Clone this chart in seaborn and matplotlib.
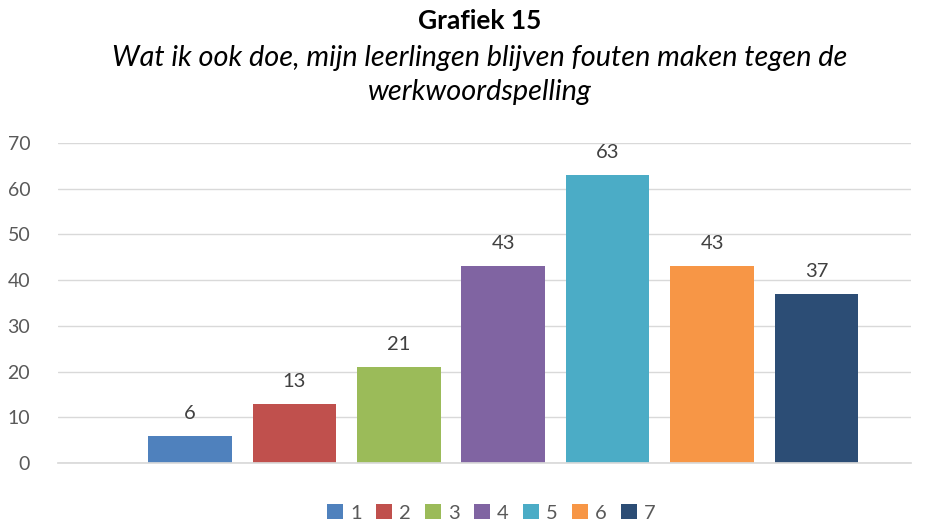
import matplotlib
matplotlib.use("Agg")
import matplotlib.pyplot as plt
import seaborn as sns
import pandas as pd

categories = ["1", "2", "3", "4", "5", "6", "7"]
values = [6, 13, 21, 43, 63, 43, 37]
colors = ["#4F81BD", "#C0504D", "#9BBB59", "#8064A2", "#4BACC6", "#F79646", "#2C4D75"]
yticks = [0, 10, 20, 30, 40, 50, 60, 70]
title = "Grafiek 15"
subtitle = "Wat ik ook doe, mijn leerlingen blijven fouten maken tegen de\nwerkwoordspelling"

sns.set_theme(style="white")
plt.rcParams["font.family"] = ["Lato", "DejaVu Sans"]

df = pd.DataFrame({"cat": categories, "val": values})
fig = plt.figure(figsize=(9.41, 5.25), dpi=100)
ax = fig.add_axes([0.0616, 0.118, 0.907, 0.61])

sns.barplot(data=df, x="cat", y="val", hue="cat", order=categories, hue_order=categories,
            palette=colors, dodge=False, width=0.8, saturation=1, ax=ax, legend=True,
            edgecolor="none", linewidth=0)

ax.set_xlim(-1.263, 6.909)
ax.set_ylim(0, 70)
ax.set_yticks(yticks)
ax.set_yticklabels([str(t) for t in yticks], fontsize=14, color="#595959")
ax.set_xticks([])
ax.set_xlabel("")
ax.set_ylabel("")
ax.grid(axis="y", color="#D9D9D9", linewidth=1)
ax.set_axisbelow(True)
for s in ["top", "right", "left"]:
    ax.spines[s].set_visible(False)
ax.spines["bottom"].set_color("#D9D9D9")
ax.tick_params(axis="y", length=0, pad=20)

for c in ax.containers:
    ax.bar_label(c, fontsize=14.5, color="#404040", padding=10)

leg = ax.get_legend()
handles, labels = ax.get_legend_handles_labels()
leg.remove()
fig.legend(handles, labels, loc="center", bbox_to_anchor=(0.522, 0.023), ncol=7, frameon=False,
           fontsize=14.5, handlelength=0.8, handleheight=0.8, handletextpad=0.35, columnspacing=0.7,
           labelcolor="#595959")

fig.text(0.51, 0.960, title, ha="center", va="center", fontsize=19, fontweight="bold", color="black")
fig.text(0.51, 0.857, subtitle, ha="center", va="center", fontsize=20.8, style="italic",
         color="black", linespacing=1.42)

fig.savefig("out.png", dpi=100)
